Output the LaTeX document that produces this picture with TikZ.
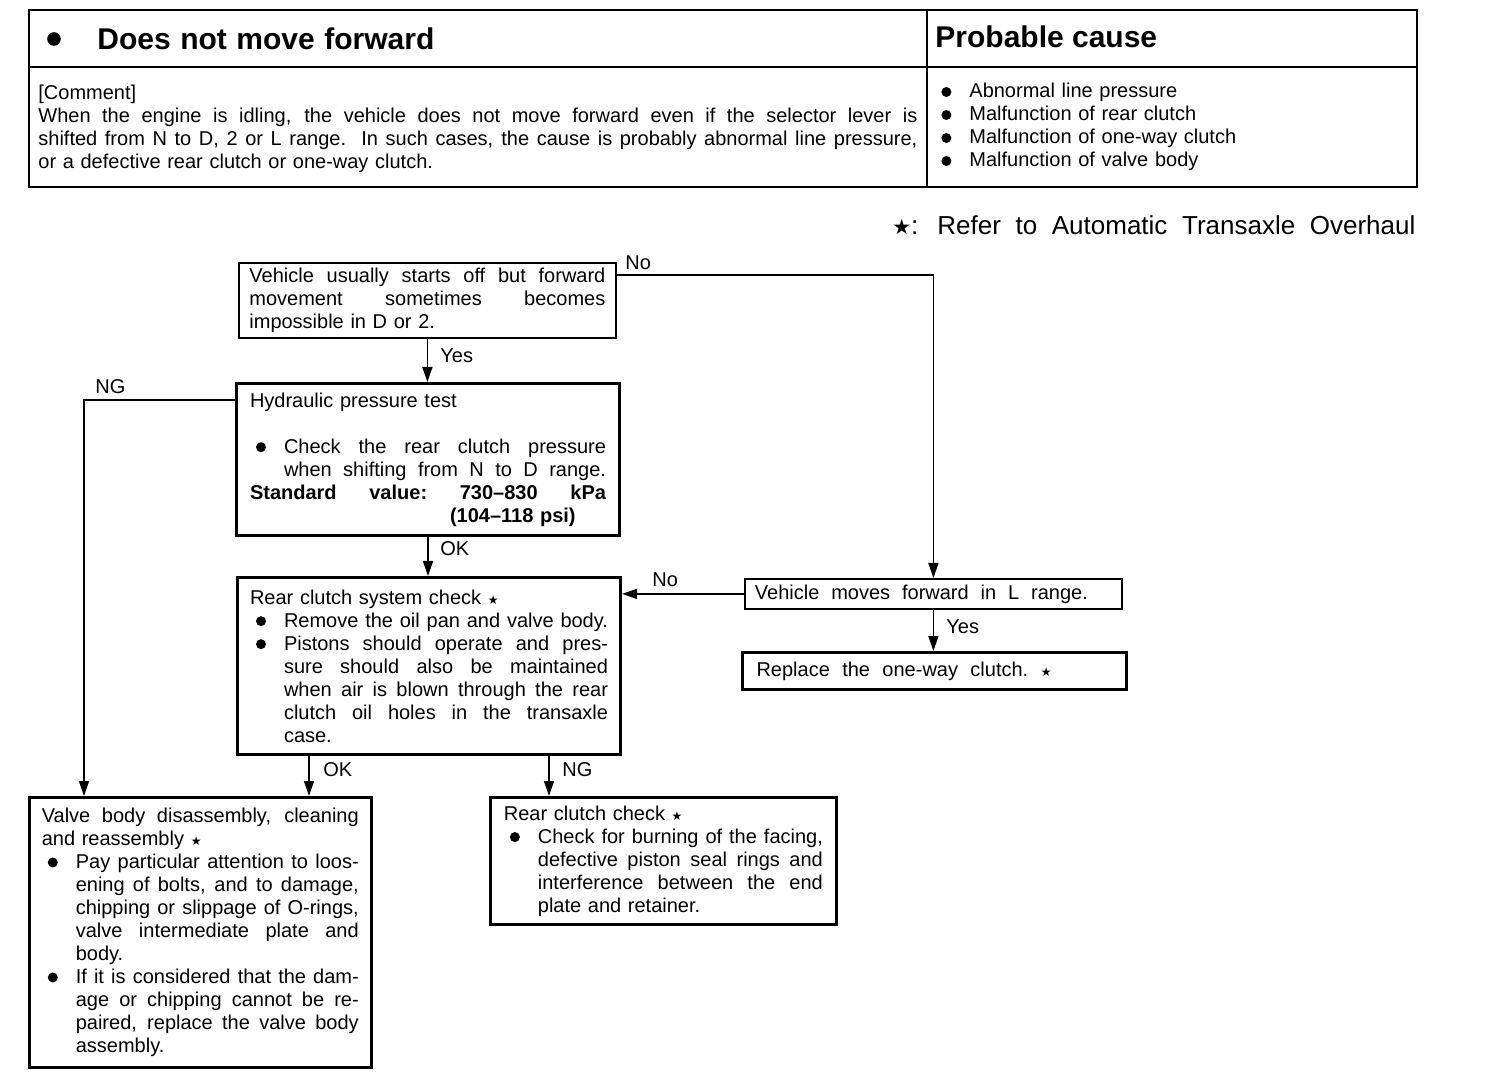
\documentclass[tikz,border=0pt]{standalone}
\usepackage{fontspec}
\setmainfont{Liberation Sans}
\newfontfamily\dvfont{DejaVu Sans}
\usetikzlibrary{arrows.meta,calc}
\newcommand\myst{{\dvfont\fontsize{6}{6}\selectfont ★}}
\newcommand\mybul{\tikz[baseline=0pt]\fill (2.4pt,3pt) circle (2.5pt);}
\newlength\indw \setlength\indw{17pt}
\newcommand\stretchsp{\spaceskip=\fontdimen2\font plus 1fil minus \fontdimen4\font\relax\xspaceskip=\spaceskip}
\newcommand\lnJ[1]{\makebox[\hsize][s]{\stretchsp #1}}
\newcommand\lnBJ[1]{\hspace*{3pt}\makebox[\dimexpr\indw-3pt\relax][l]{\mybul}\makebox[\dimexpr\hsize-\indw\relax][s]{\stretchsp #1}}
\newcommand\lnBL[1]{\hspace*{3pt}\makebox[\dimexpr\indw-3pt\relax][l]{\mybul}#1}
\newcommand\lnIJ[1]{\hspace*{\indw}\makebox[\dimexpr\hsize-\indw\relax][s]{\stretchsp #1}}
\newcommand\lnIL[1]{\hspace*{\indw}#1}
\newcommand\lnW[2]{\makebox[#1][s]{\stretchsp #2}}
\tikzset{
  box/.style={draw, line width=0.9pt, inner sep=0pt, anchor=north west, align=left},
  thick box/.style={box, line width=1.5pt},
  arr/.style={line width=0.75pt, -{Triangle[length=7.5pt,width=5pt]}},
  lbl/.style={anchor=base west, inner sep=0pt},
  txt/.style={anchor=base west, inner sep=0pt, align=left},
}
\begin{document}
\begin{tikzpicture}[x=0.5pt,y=-0.5pt,font=\fontsize{10}{11.5}\selectfont]
\useasboundingbox (0,0) rectangle (1504,1090);
% header table
\draw[line width=1.2pt] (29,10) rectangle (1417,187);
\draw[line width=1.1pt] (927,10) -- (927,187);
\draw[line width=1.1pt] (29,67) -- (1417,67);
\fill (54,39) circle (3.4pt);
\node[txt] (title) at (97,50) {\fontsize{15}{16}\selectfont\bfseries\lnW{168.5pt}{Does not move forward}};
\node[txt] (pc) at (935,48) {\fontsize{15}{16}\selectfont\bfseries Probable cause};
\node[txt, text width=439.5pt] (comment) at (38,100) {[Comment]\\
\lnJ{When the engine is idling, the vehicle does not move forward even if the selector lever is}\\
\lnJ{shifted from N to D, 2 or L range.\ \ In such cases, the cause is probably abnormal line pressure,}\\
or a defective rear clutch or one-way clutch.};
\node[txt, text width=230pt] (causes) at (941,98) {%
\makebox[14pt][l]{\mybul}Abnormal line pressure\\
\makebox[14pt][l]{\mybul}Malfunction of rear clutch\\
\makebox[14pt][l]{\mybul}Malfunction of one-way clutch\\
\makebox[14pt][l]{\mybul}Malfunction of valve body};
\node[txt] (refstar) at (892,235) {{\dvfont\fontsize{10.5}{11}\selectfont ★}\fontsize{13}{14}\selectfont:};
\node[txt] (ref) at (937,235) {\fontsize{13}{14}\selectfont\lnW{239pt}{Refer to Automatic Transaxle Overhaul}};
% flowchart boxes
\node[box, minimum width=188.5pt, minimum height=37.5pt, text width=178pt] (b1) at (238,262) {%
\lnJ{Vehicle usually starts off but forward}\\
\lnJ{movement sometimes becomes}\\
impossible in D or 2.};
\node[thick box, minimum width=191.5pt, minimum height=76pt, text width=178pt] (b2) at (235,382) {%
Hydraulic pressure test\\[11.5pt]
\lnBJ{Check the rear clutch pressure}\\
\lnIJ{when shifting from N to D range.}\\
\textbf{\lnJ{Standard value: 730–830 kPa}}\\
\hspace*{100pt}\textbf{(104–118 psi)}};
\node[thick box, minimum width=191.5pt, minimum height=88.5pt, text width=179pt] (b3) at (236,576) {%
Rear clutch system check \myst\\
\lnBJ{Remove the oil pan and valve body.}\\
\lnBJ{Pistons should operate and pres-}\\
\lnIJ{sure should also be maintained}\\
\lnIJ{when air is blown through the rear}\\
\lnIJ{clutch oil holes in the transaxle}\\
\lnIL{case.}};
\node[box, minimum width=188.5pt, minimum height=15pt, text width=178.5pt] (bL) at (744,578) {%
\lnW{166.5pt}{Vehicle moves forward in L range.}};
\node[thick box, minimum width=192pt, minimum height=18.5pt, text width=178pt] (bR) at (741,651) {%
\lnW{147.5pt}{Replace the one-way clutch. \myst}};
\node[box, line width=1.3pt, minimum width=171pt, minimum height=135pt, text width=158.5pt] (vb) at (28,796) {%
\lnJ{Valve body disassembly, cleaning}\\
and reassembly \myst\\
\lnBJ{Pay particular attention to loos-}\\
\lnIJ{ening of bolts, and to damage,}\\
\lnIJ{chipping or slippage of O-rings,}\\
\lnIJ{valve intermediate plate and}\\
\lnIL{body.}\\
\lnBJ{If it is considered that the dam-}\\
\lnIJ{age or chipping cannot be re-}\\
\lnIJ{paired, replace the valve body}\\
\lnIL{assembly.}};
\node[box, line width=1.4pt, minimum width=173pt, minimum height=63.5pt, text width=159.5pt] (rc) at (489,796) {%
Rear clutch check \myst\\
\lnBJ{Check for burning of the facing,}\\
\lnIJ{defective piston seal rings and}\\
\lnIJ{interference between the end}\\
\lnIL{plate and retainer.}};
% connectors
\coordinate (s1) at ($(b1.north east)+(0,13)$);
\coordinate (s2) at ($(b2.north west)+(0,18)$);
\coordinate (e2) at ($(vb.north west)+(56,0)$);
\coordinate (o1) at ($(b3.south west)+(73,0)$);
\coordinate (n1) at ($(b3.south west)+(313,0)$);
\draw[arr] (b1.south) -- (b1.south |- b2.north);
\draw[arr] (s1) -| (bL.north);
\draw[arr] (s2) -| (e2);
\draw[arr] (b2.south) -- (b2.south |- b3.north);
\draw[arr] (bL.west) -- (bL.west -| b3.east);
\draw[arr] (bL.south) -- (bL.south |- bR.north);
\draw[arr] (o1) -- (o1 |- vb.north);
\draw[arr] (n1) -- (n1 |- rc.north);
% labels
\node[lbl] (lNo1) at (625,270) {No};
\node[lbl] (lYes1) at (440,363) {Yes};
\node[lbl] (lNG1) at (95,394) {NG};
\node[lbl] (lOK1) at (440,556) {OK};
\node[lbl] (lNo2) at (652,587) {No};
\node[lbl] (lYes2) at (946,633) {Yes};
\node[lbl] (lOK2) at (323,776) {OK};
\node[lbl] (lNG2) at (562,776) {NG};
\end{tikzpicture}
\end{document}
